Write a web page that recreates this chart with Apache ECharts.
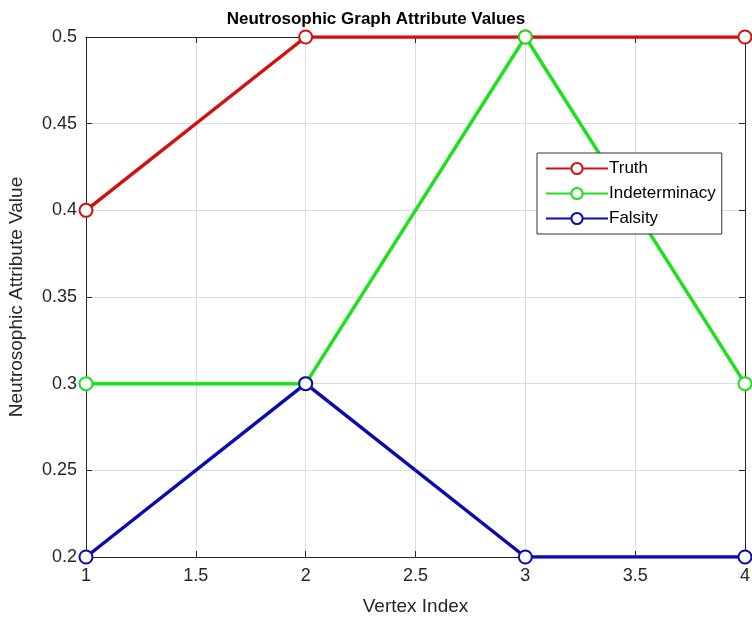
<!DOCTYPE html>
<html lang="en">
<head>
    <meta charset="UTF-8">
    <title>Neutrosophic Graph Attribute Values</title>
    <style>
        html, body { margin: 0; padding: 0; background: #fff; }
        #main { width: 752px; height: 619px; }
    </style>
</head>
<body>
<div id="main"></div>
<script src="https://cdn.jsdelivr.net/npm/echarts@6/dist/echarts.min.js"></script>
<script type="text/javascript">
    // data
    var vertices = [1, 2, 3, 4];
    var truth = [0.4, 0.5, 0.5, 0.5];
    var indeterminacy = [0.3, 0.3, 0.5, 0.3];
    var falsity = [0.2, 0.3, 0.2, 0.2];

    function pairs(vals) {
        return vals.map(function (v, i) { return [vertices[i], v]; });
    }

    function fmt(v) {
        return String(Math.round(v * 100) / 100);
    }

    var myChart = echarts.init(document.getElementById('main'));

    function line(name, vals, color) {
        return {
            name: name,
            type: 'line',
            data: pairs(vals),
            symbol: 'emptyCircle',
            symbolSize: 13,
            lineStyle: {color: color, width: 3.5},
            itemStyle: {color: color, borderColor: color, borderWidth: 3},
            emphasis: {disabled: true},
            z: 3
        };
    }

    var font = 'Liberation Sans, Arial, sans-serif';
    var axisTxt = {color: '#262626', fontSize: 18, fontFamily: font};

    option = {
        animation: false,
        title: {
            text: 'Neutrosophic Graph Attribute Values',
            left: 'center',
            top: 6,
            textStyle: {fontSize: 17, fontWeight: 'bold', color: '#000', fontFamily: font}
        },
        grid: {left: 86, top: 37, right: 7, bottom: 62, outerBoundsMode: 'none'},
        legend: {
            orient: 'vertical',
            left: 537,
            top: 153,
            backgroundColor: '#fff',
            borderColor: '#333',
            borderWidth: 1,
            borderRadius: 0,
            padding: [7, 6, 7, 8],
            itemGap: 8,
            itemWidth: 62,
            itemHeight: 14,
            textStyle: {fontSize: 17, color: '#000', fontFamily: font, padding: [0, 0, 0, -4]},
            data: ['Truth', 'Indeterminacy', 'Falsity']
        },
        xAxis: [{
            type: 'value',
            min: 1, max: 4, interval: 0.5,
            name: 'Vertex Index',
            nameLocation: 'middle',
            nameGap: 40,
            nameTextStyle: {fontSize: 19, color: '#262626', fontFamily: font},
            axisLine: {lineStyle: {color: '#262626', width: 1}},
            axisTick: {inside: true, length: 6, lineStyle: {color: '#262626'}},
            axisLabel: Object.assign({formatter: fmt, margin: 10}, axisTxt),
            splitLine: {show: true, lineStyle: {color: '#dcdcdc'}}
        }, {
            type: 'value',
            position: 'top',
            min: 1, max: 4, interval: 0.5,
            axisLine: {show: true, onZero: false, lineStyle: {color: '#262626'}},
            axisTick: {inside: true, length: 6, lineStyle: {color: '#262626'}},
            axisLabel: {show: false},
            splitLine: {show: false}
        }],
        yAxis: [{
            type: 'value',
            min: 0.2, max: 0.5, interval: 0.05,
            name: 'Neutrosophic Attribute Value',
            nameLocation: 'middle',
            nameGap: 60,
            nameTextStyle: {fontSize: 19, color: '#262626', fontFamily: font},
            axisLine: {show: true, lineStyle: {color: '#262626', width: 1}},
            axisTick: {show: true, inside: true, length: 6, lineStyle: {color: '#262626'}},
            axisLabel: Object.assign({formatter: fmt, margin: 9}, axisTxt),
            splitLine: {show: true, lineStyle: {color: '#dcdcdc'}}
        }, {
            type: 'value',
            position: 'right',
            min: 0.2, max: 0.5, interval: 0.05,
            axisLine: {show: true, onZero: false, lineStyle: {color: '#262626'}},
            axisTick: {show: true, inside: true, length: 6, lineStyle: {color: '#262626'}},
            axisLabel: {show: false},
            splitLine: {show: false}
        }],
        series: [
            line('Truth', truth, '#d40f0f'),
            line('Indeterminacy', indeterminacy, '#1fe01f'),
            line('Falsity', falsity, '#0a0ab4')
        ]
    };

    myChart.setOption(option);
</script>
</body>
</html>
